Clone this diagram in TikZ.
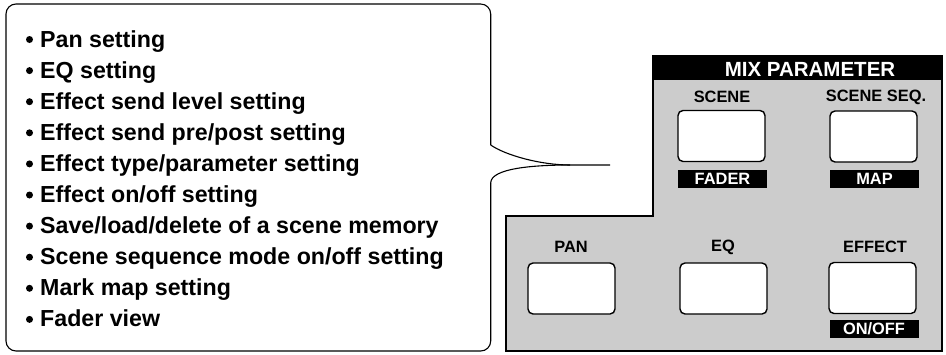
\documentclass[tikz,border=0pt]{standalone}
\usepackage{fontspec}
\setmainfont{Liberation Sans}
\begin{document}
\begin{tikzpicture}[x=1pt,y=-1pt,
  btn/.style={draw=black,line width=1.4pt,fill=white,rounded corners=5pt,minimum width=87pt,minimum height=51pt,inner sep=0pt},
  lbl/.style={font=\fontsize{16.4}{17}\selectfont\bfseries,inner sep=0pt},
  bar/.style={fill=black,text=white,font=\fontsize{16.4}{17}\selectfont\bfseries,minimum width=89pt,minimum height=18pt,inner sep=0pt},
  item/.style={font=\fontsize{23.2}{24}\selectfont\bfseries,anchor=base west,inner sep=0pt},
  dot/.style={fill=black,circle,inner sep=0pt,minimum size=7pt}]
\useasboundingbox (0,0) rectangle (946,354);
% callout
\draw[line width=1.1pt,rounded corners=10pt] (490.7,145) -- (490.7,4) -- (6,4) -- (6,351) -- (490.7,351) -- (490.7,183);
\draw[line width=1.1pt] (490.7,145) .. controls (505,155) and (540,165) .. (570,165) -- (610,165);
\draw[line width=1.1pt] (570,165) .. controls (535,165) and (490.7,168) .. (490.7,183);
% list
\foreach \t [count=\i from 0] in {Pan setting,EQ setting,Effect send level setting,Effect send pre/post setting,Effect type/parameter setting,Effect on/off setting,Save/load/delete of a scene memory,Scene sequence mode on/off setting,Mark map setting,Fader view}{
  \node[item] (it\i) at (40,{47+31.1*\i}) {\t};
  \node[dot] (d\i) at (29.5,{39.5+31.1*\i}) {};
}
% panel
\draw[fill=black!20,line width=1.5pt] (653,56) -- (942,56) -- (942,351) -- (506,351) -- (506,216) -- (653,216) -- cycle;
\fill[black] (653,56) rectangle (942,80);
\node[text=white,font=\fontsize{20.5}{21}\selectfont\bfseries,inner sep=0pt] (hdr) at (810,69) {MIX PARAMETER};
% buttons
\node[lbl] (lscene) at (722,97) {SCENE};
\node[btn] (bscene) at (721.5,136) {};
\node[bar] (bfader) at (722.5,179) {FADER};
\node[lbl] (lseq) at (876,97) {SCENE SEQ.};
\node[btn] (bseq) at (873.5,136.5) {};
\node[bar] (bmap) at (874.5,179) {MAP};
\node[lbl] (lpan) at (571,247) {PAN};
\node[btn] (bpan) at (571.5,288.5) {};
\node[lbl] (leq) at (723,247) {EQ};
\node[btn] (beq) at (723.5,288.5) {};
\node[lbl] (leff) at (875,247) {EFFECT};
\node[btn] (beff) at (872.5,288) {};
\node[bar] (bonoff) at (874,329) {ON/OFF};
\end{tikzpicture}
\end{document}
